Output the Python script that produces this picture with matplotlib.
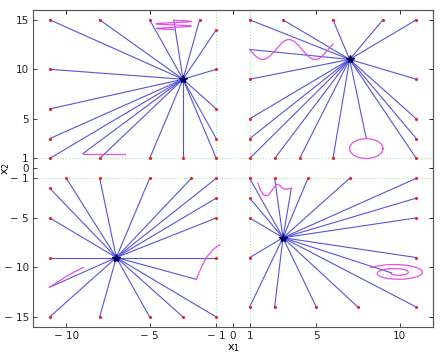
import matplotlib
matplotlib.use('Agg')
import matplotlib.pyplot as plt
import numpy as np

# centres of the four ray fans
centers_x = [-3, 7, -7, 3]
centers_y = [9, 11, -9, -7]

# red target points per panel
tl_x = [-11, -8, -5, -2, -1, -1, -1, -1, -1, -3, -5, -8, -11, -11, -11, -11]
tl_y = [15, 15, 15, 15, 14, 10, 6, 3, 1, 1, 1, 1, 1, 3, 6, 10]
tr_x = [1, 3, 6, 9, 11, 11, 11, 11, 11, 6, 4, 2.5, 1, 1, 1, 1]
tr_y = [15, 15, 15, 15, 15, 9, 5, 3, 1, 1, 1, 1, 1, 3, 5, 9]
bl_x = [-10, -8, -5, -2.5, -1, -1, -1, -1, -1, -3, -5, -8, -11, -11, -11, -11]
bl_y = [-1, -1, -1, -1, -1, -3, -5, -9, -15, -15, -15, -15, -15, -9, -5, -2]
br_x = [1, 2.5, 4.5, 7, 11, 11, 11, 11, 11, 7.5, 5, 2.5, 1, 1, 1, 1]
br_y = [-1, -1, -1, -1, -1, -3, -5, -9, -14, -14, -14, -14, -14, -9, -5, -3]

# magenta obstacle curves
helix_c = (-3.55, 14.95)      # top-left spring: start, width 1.05, drop 0.94
bar_x = [-9, -6.5]            # top-left flat segment
bar_y = [1.5, 1.5]
wave_x0, wave_x1 = 1, 6       # top-right sine: y = 12 - sin(2(x-1))
circle_c, circle_r = (8, 2), 1
leaf_x = [-11, -10, -9]
leaf_y = [-12, -10.9, -10]
arc_x = [-2.2, -2.05, -1.9, -1.6, -1.2, -0.8]
arc_y = [-11.2, -10.6, -10.0, -9.0, -8.2, -7.7]
wig_x = [1.5, 1.65, 1.85, 2.1, 2.35, 2.6, 2.8, 3.0, 3.2, 3.5]
wig_y = [-1.5, -2.2, -2.7, -2.75, -2.2, -1.6, -1.7, -2.05, -2.1, -2.0]
spiral_c = (9.8, -10.55)

mag = '#e54fe5'
ray_col = (0.33, 0.33, 0.88)

# curves
t = np.linspace(0, 4 * np.pi, 200)
helix_x = helix_c[0] + 1.05 * np.sin(t)
helix_y = helix_c[1] - 0.075 * t
wave_x = np.linspace(wave_x0, wave_x1, 150)
wave_y = 12 - np.sin(2 * (wave_x - 1))
th = np.linspace(0, 2 * np.pi, 100)
circ_x = circle_c[0] + circle_r * np.cos(th)
circ_y = circle_c[1] + circle_r * np.sin(th)
ts = np.linspace(np.pi, 4.8 * np.pi, 300)
rs = 0.15 + 0.85 * (ts - np.pi) / (3.8 * np.pi)
spir_x = spiral_c[0] + 1.9 * rs * np.cos(ts)
spir_y = spiral_c[1] + 0.9 * rs * np.sin(ts)

# extra ray targets on curves
extra = [
    [(helix_x[0], helix_y[0]), (bar_x[0], bar_y[0])],
    [(wave_x[0], wave_y[0]), (circle_c[0], circle_c[1] + circle_r)],
    [(leaf_x[0], leaf_y[0]), (arc_x[0], arc_y[0])],
    [(wig_x[-1], wig_y[-1]), (spir_x[0], spir_y[0])],
]

fig = plt.figure(figsize=(4.4, 3.53), dpi=100)
ax = fig.add_axes([0.075, 0.074, 0.909, 0.898])

for v in [-1, 1]:
    ax.axhline(v, color='#a6e6a6', ls=':', lw=0.8, zorder=0)
    ax.axvline(v, color='#a6e6a6', ls=':', lw=0.8, zorder=0)

panels = [(tl_x, tl_y), (tr_x, tr_y), (bl_x, bl_y), (br_x, br_y)]
for i, (px, py) in enumerate(panels):
    cx, cy = centers_x[i], centers_y[i]
    for x, y in list(zip(px, py)) + extra[i]:
        ax.plot([cx, x], [cy, y], color=ray_col, lw=0.8, zorder=2)
    ax.plot(px, py, '.', color='#ee2222', ms=2.5, zorder=3)
    ax.plot(cx, cy, '*', color='#000060', ms=6, zorder=4)

for cx_, cy_ in [(helix_x, helix_y), (bar_x, bar_y), (wave_x, wave_y),
                 (circ_x, circ_y), (leaf_x, leaf_y), (arc_x, arc_y),
                 (wig_x, wig_y), (spir_x, spir_y)]:
    ax.plot(cx_, cy_, color=mag, lw=0.9, zorder=3)

ax.set_xlim(-12, 12)
ax.set_ylim(-16, 16)
xt = [-10, -5, -1, 0, 1, 5, 10]
yt = [-15, -10, -5, -1, 0, 1, 5, 10, 15]
lab = lambda v: ('\u2212 %d' % -v) if v < 0 else '%d' % v
ax.set_xticks(xt)
ax.set_xticklabels([lab(v) for v in xt])
ax.set_yticks(yt)
ax.set_yticklabels([lab(v) for v in yt])
ax.tick_params(direction='in', length=3, labelsize=7.5, width=0.6, colors='#222222', pad=3)

top = ax.secondary_xaxis('top')
top.set_xticks([-10, -5, 0, 5, 10])
top.tick_params(direction='in', length=3, labeltop=False, width=0.6)
right = ax.secondary_yaxis('right')
right.set_yticks([-15, -10, -5, 0, 5, 10, 15])
right.tick_params(direction='in', length=3, labelright=False, width=0.6)
for s in list(ax.spines.values()) + [top.spines['top'], right.spines['right']]:
    s.set_color('#555555')
    s.set_linewidth(0.8)

ax.set_xlabel('x$_1$', fontsize=8, labelpad=1)
ax.set_ylabel('x$_2$', fontsize=8)
ax.yaxis.set_label_coords(-0.052, 0.5)

fig.savefig('out.png', dpi=100)
